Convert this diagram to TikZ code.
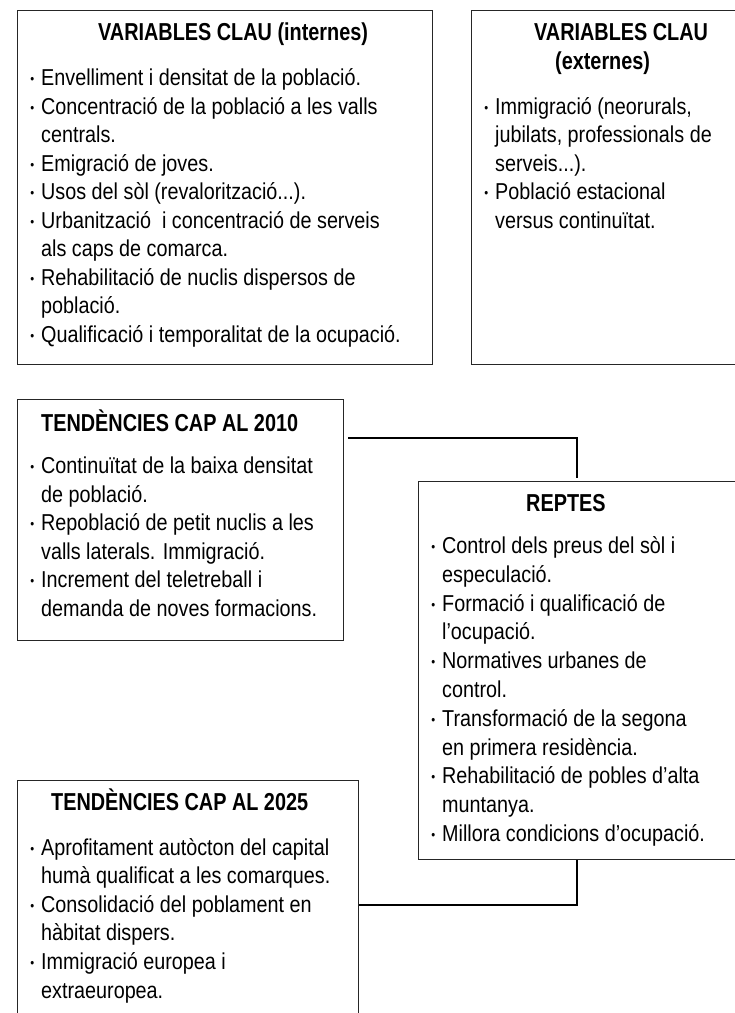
\documentclass[tikz,border=0pt]{standalone}
\usepackage{fontspec}
\setmainfont{Liberation Sans}[FakeStretch=0.86]
\newfontfamily\ttlfont{Liberation Sans}[FakeStretch=0.81]
\newcommand{\bul}{\llap{\raisebox{2pt}{\fontsize{13pt}{13pt}\selectfont •}\hspace{7pt}}}
\newcommand{\tdots}{...}
\tikzset{
  box/.style={draw=black!85, line width=1.2pt, inner sep=0pt, anchor=north west},
  ttl/.style={font=\ttlfont\fontsize{24.5pt}{29pt}\selectfont\bfseries, inner sep=0pt, anchor=base west},
  body/.style={font=\fontsize{23pt}{28pt}\selectfont, inner sep=0pt, anchor=base west},
  conn/.style={draw=black, line width=1.2pt}
}
\begin{document}
\begin{tikzpicture}[x=1pt,y=-1pt]
\useasboundingbox (0,0) rectangle (735,1013);
\clip (0,0) rectangle (735,1013);
\fill[white] (0,0) rectangle (735,1013);
% boxes
\node[box, minimum width=415pt, minimum height=354pt] (vint) at (17,10) {};
\node[box, minimum width=266pt, minimum height=354pt] (vext) at (471,10) {};
\node[box, minimum width=326pt, minimum height=241pt] (t2010) at (17,399) {};
\node[box, minimum width=319pt, minimum height=378pt] (reptes) at (418,481) {};
\node[box, minimum width=341pt, minimum height=240pt] (t2025) at (17,780) {};
% connectors
\coordinate (k1) at (577,438);
\coordinate (k2) at (577,905);
\draw[conn, shorten <=4pt, shorten >=3pt] (t2010.east |- k1) -| (reptes.north -| k1);
\draw[conn] (reptes.south -| k2) |- (t2025.east |- k2);
% titles
\node[ttl] (vintT) at (98,40) {VARIABLES CLAU (internes)};
\node[ttl] (vextT1) at (534,40) {VARIABLES CLAU};
\node[ttl] (vextT2) at (555,69) {(externes)};
\node[ttl] (t2010T) at (41,431) {TENDÈNCIES CAP AL 2010};
\node[ttl] (reptesT) at (526,511) {REPTES};
\node[ttl] (t2025T) at (51,810) {TENDÈNCIES CAP AL 2025};
% body texts
\foreach \t [count=\i from 0] in {
  {\bul Envelliment i densitat de la població.},
  {\bul Concentració de la població a les valls},
  {centrals.},
  {\bul Emigració de joves.},
  {\bul Usos del sòl (revalorització\tdots).},
  {\bul Urbanització\ \ i concentració de serveis},
  {als caps de comarca.},
  {\bul Rehabilitació de nuclis dispersos de},
  {població.},
  {\bul Qualificació i temporalitat de la ocupació.}}
  \node[body, name=vint\i] at (41,{85.5+28.5*\i}) {\t};
\foreach \t [count=\i from 0] in {
  {\bul Immigració (neorurals,},
  {jubilats, professionals de},
  {serveis\tdots).},
  {\bul Població estacional},
  {versus continuïtat.}}
  \node[body, name=vext\i] at (495,{114+28.5*\i}) {\t};
\foreach \t [count=\i from 0] in {
  {\bul Continuïtat de la baixa densitat},
  {de població.},
  {\bul Repoblació de petit nuclis a les},
  {valls laterals. Immigració.},
  {\bul Increment del teletreball i},
  {demanda de noves formacions.}}
  \node[body, name=t2010\i] at (41,{473.5+28.6*\i}) {\t};
\foreach \t [count=\i from 0] in {
  {\bul Control dels preus del sòl i},
  {especulació.},
  {\bul Formació i qualificació de},
  {l’ocupació.},
  {\bul Normatives urbanes de},
  {control.},
  {\bul Transformació de la segona},
  {en primera residència.},
  {\bul Rehabilitació de pobles d’alta},
  {muntanya.},
  {\bul Millora condicions d’ocupació.}}
  \node[body, name=reptes\i] at (442,{553.5+28.8*\i}) {\t};
\foreach \t [count=\i from 0] in {
  {\bul Aprofitament autòcton del capital},
  {humà qualificat a les comarques.},
  {\bul Consolidació del poblament en},
  {hàbitat dispers.},
  {\bul Immigració europea i},
  {extraeuropea.}}
  \node[body, name=t2025\i] at (41,{855+28.6*\i}) {\t};
\end{tikzpicture}
\end{document}
